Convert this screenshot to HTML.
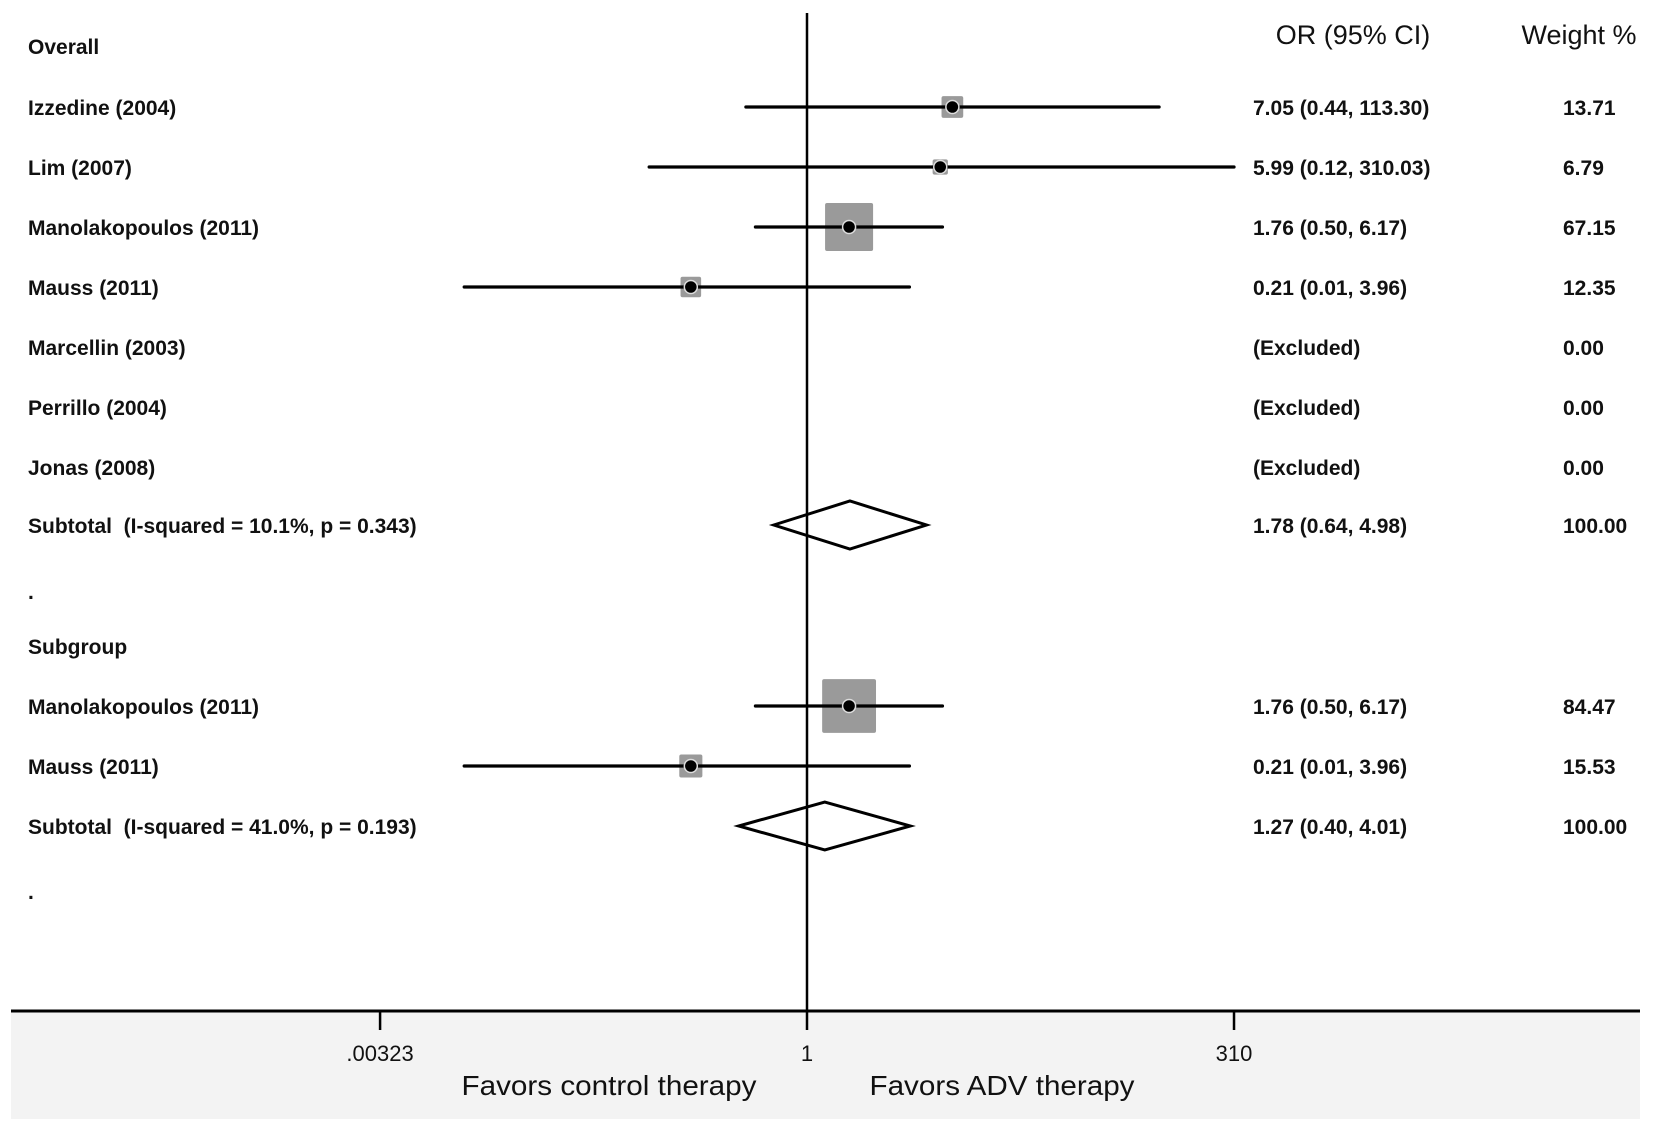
<!DOCTYPE html>
<html><head><meta charset="utf-8">
<style>
html,body{margin:0;padding:0;background:#fff;}
svg{display:block;}
text{font-family:"Liberation Sans",Arial,sans-serif;fill:#111;}
</style></head>
<body>
<svg id="chart" width="1654" height="1127" viewBox="0 0 1654 1127" xmlns="http://www.w3.org/2000/svg">
  <rect x="11" y="1011" width="1629" height="108" fill="#f3f3f3"/>
  <line x1="807" y1="13" x2="807" y2="1011" stroke="#000" stroke-width="2.5"/>
  <line x1="11" y1="1011" x2="1640" y2="1011" stroke="#000" stroke-width="3"/>
  <text x="1353" y="44" font-size="27" text-anchor="middle">OR (95% CI)</text>
  <text x="1579" y="44" font-size="27" text-anchor="middle">Weight %</text>
  <text x="609" y="1095" font-size="28" textLength="295" lengthAdjust="spacingAndGlyphs" text-anchor="middle">Favors control therapy</text>
  <text x="1002" y="1095" font-size="28" textLength="265" lengthAdjust="spacingAndGlyphs" text-anchor="middle">Favors ADV therapy</text>
  <g id="marks"></g>
</svg>
<script>
const rowLabels = ["Overall","Izzedine (2004)","Lim (2007)","Manolakopoulos (2011)","Mauss (2011)","Marcellin (2003)","Perrillo (2004)","Jonas (2008)","Subtotal  (I-squared = 10.1%, p = 0.343)",".","Subgroup","Manolakopoulos (2011)","Mauss (2011)","Subtotal  (I-squared = 41.0%, p = 0.193)","."];
const rowTypes = ["head","study","study","study","study","excl","excl","excl","diamond","blank","head","study","study","diamond","blank"];
const orValues = [null,7.05,5.99,1.76,0.21,null,null,null,1.78,null,null,1.76,0.21,1.27,null];
const ciLow = [null,0.44,0.12,0.50,0.01,null,null,null,0.64,null,null,0.50,0.01,0.40,null];
const ciHigh = [null,113.30,310.03,6.17,3.96,null,null,null,4.98,null,null,6.17,3.96,4.01,null];
const weights = [null,13.71,6.79,67.15,12.35,0,0,0,100,null,null,84.47,15.53,100,null];
const tickValues = [0.00323,1,310];
const tickLabels = [".00323","1","310"];

const rowY = [46,107,167,227,287,347,407,467,525,591,646,706,766,826,891];
const NS="http://www.w3.org/2000/svg";
const g=document.getElementById('marks');
function xScale(v){return 807+171.4*Math.log10(v);}
function mk(tag,attrs,name){const e=document.createElementNS(NS,tag);for(const k in attrs)e.setAttribute(k,attrs[k]);
  
  
  g.appendChild(e);return e;}
function fmt(v){return v.toFixed(2);}
rowLabels.forEach((lab,i)=>{
  const y=rowY[i];
  const t=mk('text',{x:28,y:y+8,'font-size':21,'font-weight':'bold','fill':'#222'},'row-label');
  t.setAttribute('xml:space','preserve');
  t.style.whiteSpace='pre';
  t.textContent=lab;
  const type=rowTypes[i];
  if(type==='study'){
    const x=xScale(orValues[i]);
    const s=5.86*Math.sqrt(weights[i]);
    mk('rect',{x:x-s/2,y:y-s/2,width:s,height:s,fill:'#9a9a9a',rx:2},'weight-square');
    const x1=Math.max(xScale(ciLow[i]),11), x2=Math.min(xScale(ciHigh[i]),1640);
    mk('line',{x1:x1,y1:y,x2:x2,y2:y,stroke:'#000','stroke-width':3.2,'stroke-linecap':'round'},'ci-line');
    mk('circle',{cx:x,cy:y,r:6.5,fill:'#000',stroke:'#ddd','stroke-width':1.5},'point-estimate');
  }
  if(type==='diamond'){
    const x=xScale(orValues[i]),xl=xScale(ciLow[i]),xh=xScale(ciHigh[i]);
    mk('polygon',{points:`${xl},${y} ${x},${y-24} ${xh},${y} ${x},${y+24}`,fill:'none',stroke:'#000','stroke-width':3},'pooled-diamond');
  }
  if(type==='study'||type==='diamond'){
    const o=mk('text',{x:1253,y:y+8,'font-size':21,'font-weight':'bold','fill':'#222'},'or-ci-value');
    o.textContent=`${fmt(orValues[i])} (${fmt(ciLow[i])}, ${fmt(ciHigh[i])})`;
  }
  if(type==='excl'){
    const o=mk('text',{x:1253,y:y+8,'font-size':21,'font-weight':'bold','fill':'#222'},'or-ci-value');
    o.textContent='(Excluded)';
  }
  if(weights[i]!==null){
    const w=mk('text',{x:1563,y:y+8,'font-size':21,'font-weight':'bold','fill':'#222'},'weight-value');
    w.textContent=fmt(weights[i]);
  }
});
tickValues.forEach((v,i)=>{
  const x=xScale(v);
  mk('line',{x1:x,y1:1011,x2:x,y2:1030,stroke:'#000','stroke-width':2.5},'x-tick');
  const t=mk('text',{x:x,y:1061,'font-size':22,'text-anchor':'middle'},'x-tick-label');
  t.textContent=tickLabels[i];
});
</script>
</body></html>
